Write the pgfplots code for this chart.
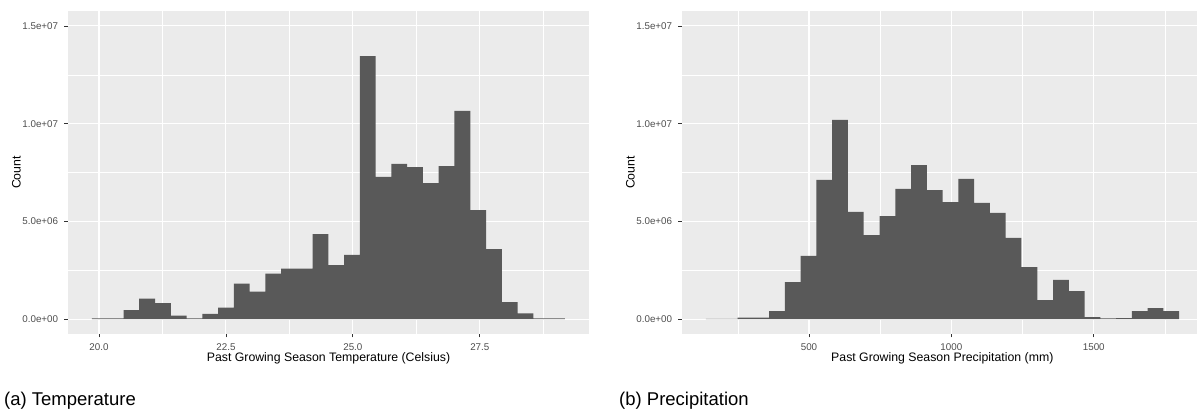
\documentclass[border=0pt]{standalone}
\usepackage{pgfplots}
\pgfplotsset{compat=1.18}
\usepackage{fontspec}
\setmainfont{Liberation Sans}
\definecolor{ggbg}{HTML}{EBEBEB}
\definecolor{ggbar}{HTML}{595959}
\definecolor{ggtick}{HTML}{4D4D4D}
\definecolor{ggtickmark}{HTML}{333333}
\pgfplotsset{ggpanel/.style={
  scale only axis, width=521pt, height=322.4pt, anchor=south west,
  axis background/.style={fill=ggbg},
  axis line style={draw=none},
  grid=both,
  major grid style={white, line width=1.07pt},
  minor grid style={white, line width=0.53pt},
  tick align=outside,
  xtick pos=left, ytick pos=left,
  major tick length=3.7pt, minor tick length=0pt,
  every tick/.style={ggtickmark, line width=0.8pt},
  ymin=-750000, ymax=15750000,
  ytick={0,5000000,10000000,15000000},
  minor ytick={2500000,7500000,12500000},
  yticklabels={0.0e+00,5.0e+06,1.0e+07,1.5e+07},
  scaled y ticks=false, scaled x ticks=false,
  ticklabel style={font=\fontsize{9.8}{11}\selectfont, text=ggtick},
  xticklabel style={anchor=base, inner sep=0pt, yshift=-13.6pt},
  yticklabel style={anchor=east, inner sep=0pt, xshift=-6pt},
}}
\begin{document}
\begin{tikzpicture}[x=1pt,y=1pt]
\useasboundingbox (0,0) rectangle (1197,412);
\clip (0,0) rectangle (1197,412);
% (a) Temperature
\begin{axis}[ggpanel, at={(68pt,78.3pt)},
  xmin=19.39, xmax=29.65,
  xtick={20,22.5,25,27.5}, xticklabels={20.0,22.5,25.0,27.5},
  minor xtick={21.25,23.75,26.25,28.75}]
\addplot[ybar interval, fill=ggbar, draw=none] coordinates {
(19.862,40000) (20.172,40000) (20.483,460000) (20.793,1040000) (21.104,820000)
(21.414,170000) (21.724,40000) (22.035,270000) (22.345,580000) (22.656,1810000)
(22.966,1400000) (23.276,2320000) (23.587,2580000) (23.897,2580000) (24.208,4350000)
(24.518,2760000) (24.828,3280000) (25.139,13460000) (25.449,7270000) (25.760,7940000)
(26.070,7780000) (26.380,6960000) (26.691,7830000) (27.001,10650000) (27.312,5580000)
(27.622,3580000) (27.932,870000) (28.243,290000) (28.553,40000) (28.864,40000)
(29.174,40000)};
\end{axis}
% (b) Precipitation
\begin{axis}[ggpanel, at={(682pt,78.3pt)},
  xmin=54.1, xmax=1883.5,
  xtick={500,1000,1500}, xticklabels={500,1000,1500},
  minor xtick={250,750,1250,1750}]
\addplot[ybar interval, fill=ggbar, draw=none] coordinates {
(138.3,10000) (193.7,10000) (249.1,70000) (304.5,70000) (359.9,410000)
(415.3,1890000) (470.6,3230000) (526.0,7120000) (581.4,10190000) (636.8,5480000)
(692.2,4300000) (747.6,5270000) (803.0,6660000) (858.4,7880000) (913.8,6600000)
(969.2,5990000) (1024.5,7170000) (1079.9,5940000) (1135.3,5430000) (1190.7,4150000)
(1246.1,2660000) (1301.5,970000) (1356.9,2000000) (1412.3,1430000) (1467.7,100000)
(1523.1,30000) (1578.4,50000) (1633.8,410000) (1689.2,560000) (1744.6,410000)
(1800.0,410000)};
\end{axis}
\node[anchor=base, inner sep=0pt, font=\fontsize{12.3}{14}\selectfont] at (328.5,50.3) {Past Growing Season Temperature (Celsius)};
\node[anchor=base, inner sep=0pt, font=\fontsize{12.3}{14}\selectfont] at (942.3,50.3) {Past Growing Season Precipitation (mm)};
\node[rotate=90, anchor=base, inner sep=0pt, font=\fontsize{12.3}{14}\selectfont] at (20.7,239.5) {Count};
\node[rotate=90, anchor=base, inner sep=0pt, font=\fontsize{12.3}{14}\selectfont] at (634.5,239.5) {Count};
\node[anchor=base west, inner sep=0pt, font=\fontsize{18.5}{22}\selectfont] at (4,6) {(a) Temperature};
\node[anchor=base west, inner sep=0pt, font=\fontsize{18.5}{22}\selectfont] at (619,6) {(b) Precipitation};
\end{tikzpicture}
\end{document}
